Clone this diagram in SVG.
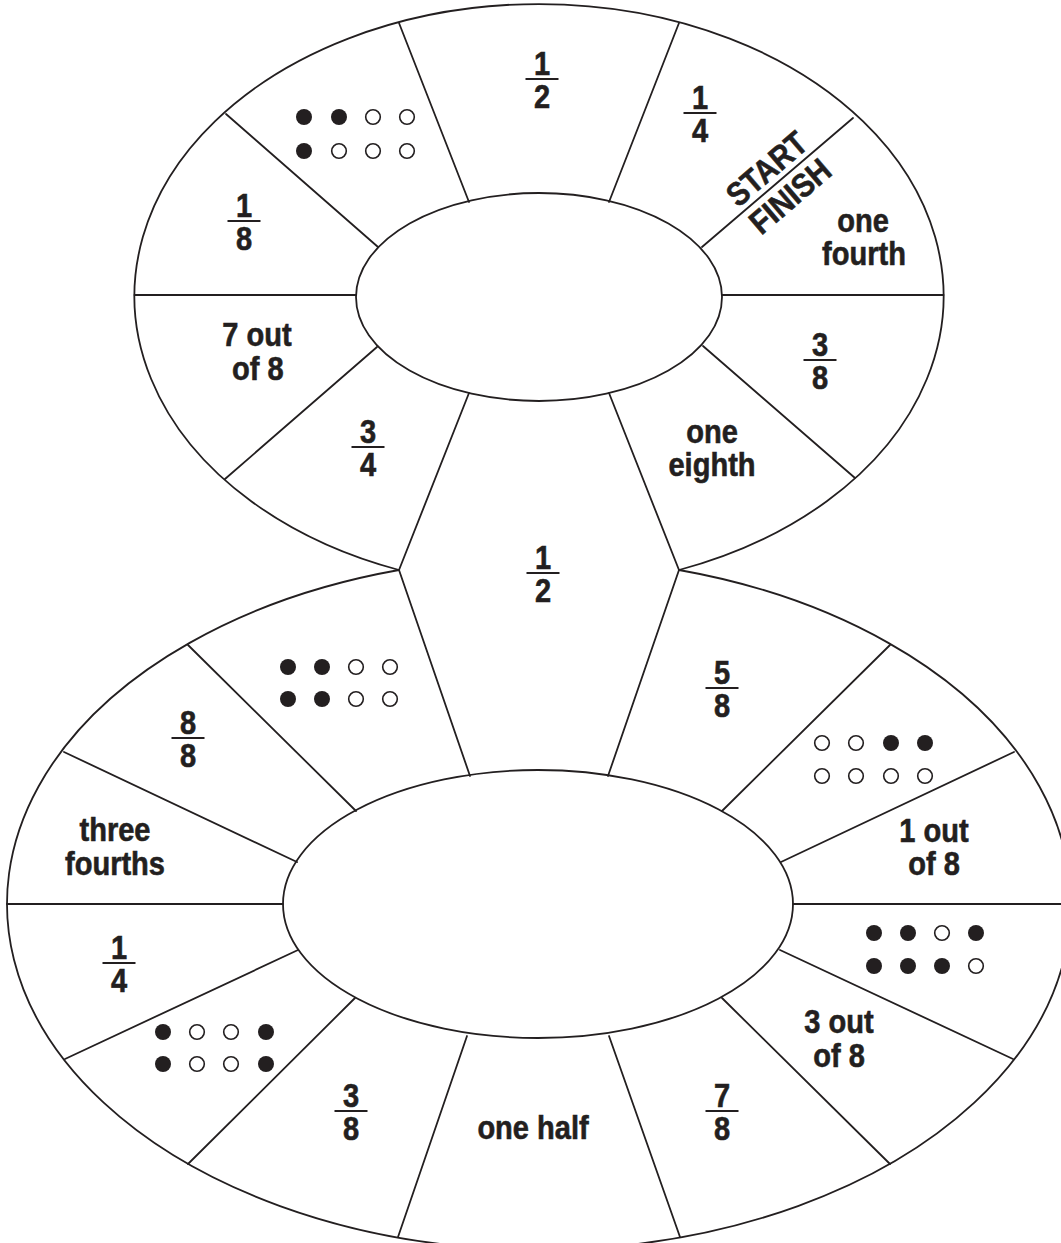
<svg xmlns="http://www.w3.org/2000/svg" xmlns:xlink="http://www.w3.org/1999/xlink" width="1061" height="1243" viewBox="0 0 1061 1243">
<style>
.ln{fill:none;stroke:#231f20;stroke-width:1.8;stroke-linecap:round}
.t{font-family:"Liberation Sans",Arial,sans-serif;font-weight:bold;font-size:33px;fill:#231f20;stroke:#231f20;stroke-width:0.6;text-anchor:middle;transform-box:fill-box;transform-origin:center;transform:scaleX(0.88)}
.bar{stroke:#231f20;stroke-width:2}
</style>
<defs>
<circle id="df" r="8" fill="#231f20"/>
<circle id="do" r="7.3" fill="#fff" stroke="#231f20" stroke-width="1.6"/>
</defs>
<rect width="1061" height="1243" fill="#fff"/>
<g id="connectors">
<path class="ln" d="M399 570 A404.5 292 0 1 1 679 570"/>
<path class="ln" d="M399 570 A532 346 0 1 0 679 570"/>
<ellipse class="ln" cx="539" cy="297" rx="183" ry="104"/>
<ellipse class="ln" cx="538" cy="904" rx="255" ry="134"/>
<line class="ln" x1="702" y1="247" x2="853" y2="118"/>
<line class="ln" x1="722" y1="295" x2="943.5" y2="295"/>
<line class="ln" x1="703" y1="346" x2="855" y2="478"/>
<line class="ln" x1="609" y1="393" x2="679" y2="570"/>
<line class="ln" x1="469" y1="393" x2="399" y2="570"/>
<line class="ln" x1="377" y1="347" x2="225" y2="479"/>
<line class="ln" x1="134.5" y1="295" x2="356" y2="295"/>
<line class="ln" x1="378" y1="247" x2="226" y2="114"/>
<line class="ln" x1="469" y1="202" x2="399" y2="23"/>
<line class="ln" x1="609" y1="202" x2="679" y2="23"/>
<line class="ln" x1="399" y1="570" x2="470" y2="776"/>
<line class="ln" x1="679" y1="570" x2="608" y2="776"/>
<line class="ln" x1="188" y1="645" x2="356" y2="811"/>
<line class="ln" x1="64" y1="752" x2="297" y2="862"/>
<line class="ln" x1="7" y1="904" x2="283" y2="904"/>
<line class="ln" x1="65" y1="1059" x2="298" y2="950"/>
<line class="ln" x1="188" y1="1164" x2="355" y2="998"/>
<line class="ln" x1="398" y1="1237" x2="467" y2="1036"/>
<line class="ln" x1="680" y1="1237" x2="609" y2="1036"/>
<line class="ln" x1="890" y1="1164" x2="722" y2="998"/>
<line class="ln" x1="1013" y1="1059" x2="780" y2="950"/>
<line class="ln" x1="793" y1="904" x2="1071" y2="904"/>
<line class="ln" x1="1014" y1="752" x2="781" y2="862"/>
<line class="ln" x1="890" y1="645" x2="722" y2="811"/>
</g>
<g id="start-finish" transform="translate(778 182) rotate(-40.5)">
<text class="t"><tspan x="0" y="-6">START</tspan><tspan x="0" y="30">FINISH</tspan></text>
</g>
<g id="top-half" transform="translate(542 79)"><text class="t"><tspan x="0" y="-4">1</tspan><tspan x="0" y="29">2</tspan></text><line class="bar" x1="-16.5" x2="16.5"/></g>
<g id="top-quarter" transform="translate(700 113)"><text class="t"><tspan x="0" y="-4">1</tspan><tspan x="0" y="29">4</tspan></text><line class="bar" x1="-16.5" x2="16.5"/></g>
<g id="one-fourth"><text class="t"><tspan x="863" y="232">one</tspan><tspan x="864" y="265">fourth</tspan></text></g>
<g id="top-three-eighths" transform="translate(820 360)"><text class="t"><tspan x="0" y="-4">3</tspan><tspan x="0" y="29">8</tspan></text><line class="bar" x1="-16.5" x2="16.5"/></g>
<g id="one-eighth"><text class="t"><tspan x="712" y="443">one</tspan><tspan x="712" y="476">eighth</tspan></text></g>
<g id="middle-half" transform="translate(543 573)"><text class="t"><tspan x="0" y="-4">1</tspan><tspan x="0" y="29">2</tspan></text><line class="bar" x1="-16.5" x2="16.5"/></g>
<g id="top-three-fourths" transform="translate(368 447)"><text class="t"><tspan x="0" y="-4">3</tspan><tspan x="0" y="29">4</tspan></text><line class="bar" x1="-16.5" x2="16.5"/></g>
<g id="seven-out-of-8"><text class="t"><tspan x="257" y="346">7 out</tspan><tspan x="258" y="380">of 8</tspan></text></g>
<g id="top-one-eighth" transform="translate(244 221)"><text class="t"><tspan x="0" y="-4">1</tspan><tspan x="0" y="29">8</tspan></text><line class="bar" x1="-16.5" x2="16.5"/></g>
<g id="top-dots">
<use xlink:href="#df" x="304" y="117"/><use xlink:href="#df" x="339" y="117"/><use xlink:href="#do" x="373" y="117"/><use xlink:href="#do" x="407" y="117"/>
<use xlink:href="#df" x="304" y="151"/><use xlink:href="#do" x="339" y="151"/><use xlink:href="#do" x="373" y="151"/><use xlink:href="#do" x="407" y="151"/>
</g>
<g id="dots-a">
<use xlink:href="#df" x="288" y="667"/><use xlink:href="#df" x="322" y="667"/><use xlink:href="#do" x="356" y="667"/><use xlink:href="#do" x="390" y="667"/>
<use xlink:href="#df" x="288" y="699"/><use xlink:href="#df" x="322" y="699"/><use xlink:href="#do" x="356" y="699"/><use xlink:href="#do" x="390" y="699"/>
</g>
<g id="eight-eighths" transform="translate(188 738)"><text class="t"><tspan x="0" y="-4">8</tspan><tspan x="0" y="29">8</tspan></text><line class="bar" x1="-16.5" x2="16.5"/></g>
<g id="three-fourths"><text class="t"><tspan x="115" y="841">three</tspan><tspan x="115" y="875">fourths</tspan></text></g>
<g id="low-quarter" transform="translate(119 963)"><text class="t"><tspan x="0" y="-4">1</tspan><tspan x="0" y="29">4</tspan></text><line class="bar" x1="-16.5" x2="16.5"/></g>
<g id="dots-b">
<use xlink:href="#df" x="163" y="1032"/><use xlink:href="#do" x="197" y="1032"/><use xlink:href="#do" x="231" y="1032"/><use xlink:href="#df" x="266" y="1032"/>
<use xlink:href="#df" x="163" y="1064"/><use xlink:href="#do" x="197" y="1064"/><use xlink:href="#do" x="231" y="1064"/><use xlink:href="#df" x="266" y="1064"/>
</g>
<g id="low-three-eighths" transform="translate(351 1111)"><text class="t"><tspan x="0" y="-4">3</tspan><tspan x="0" y="29">8</tspan></text><line class="bar" x1="-16.5" x2="16.5"/></g>
<g id="one-half"><text class="t" x="533" y="1139">one half</text></g>
<g id="seven-eighths" transform="translate(722 1111)"><text class="t"><tspan x="0" y="-4">7</tspan><tspan x="0" y="29">8</tspan></text><line class="bar" x1="-16.5" x2="16.5"/></g>
<g id="three-out-of-8"><text class="t"><tspan x="839" y="1033">3 out</tspan><tspan x="839" y="1067">of 8</tspan></text></g>
<g id="dots-c">
<use xlink:href="#df" x="874" y="933"/><use xlink:href="#df" x="908" y="933"/><use xlink:href="#do" x="942" y="933"/><use xlink:href="#df" x="976" y="933"/>
<use xlink:href="#df" x="874" y="966"/><use xlink:href="#df" x="908" y="966"/><use xlink:href="#df" x="942" y="966"/><use xlink:href="#do" x="976" y="966"/>
</g>
<g id="one-out-of-8"><text class="t"><tspan x="934" y="842">1 out</tspan><tspan x="934" y="875">of 8</tspan></text></g>
<g id="dots-d">
<use xlink:href="#do" x="822" y="743"/><use xlink:href="#do" x="856" y="743"/><use xlink:href="#df" x="891" y="743"/><use xlink:href="#df" x="925" y="743"/>
<use xlink:href="#do" x="822" y="776"/><use xlink:href="#do" x="856" y="776"/><use xlink:href="#do" x="891" y="776"/><use xlink:href="#do" x="925" y="776"/>
</g>
<g id="five-eighths" transform="translate(722 688)"><text class="t"><tspan x="0" y="-4">5</tspan><tspan x="0" y="29">8</tspan></text><line class="bar" x1="-16.5" x2="16.5"/></g>
</svg>
